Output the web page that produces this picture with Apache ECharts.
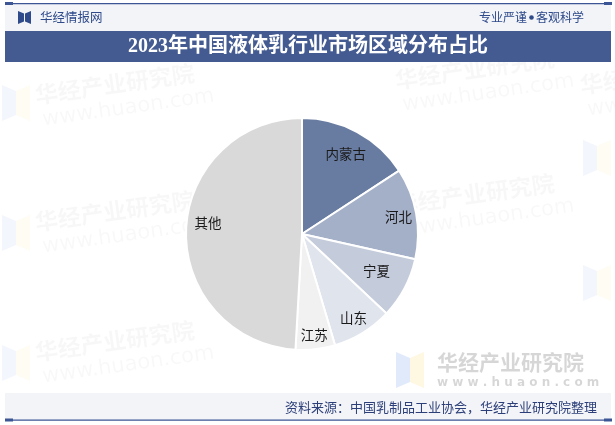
<!DOCTYPE html>
<html>
<head>
<meta charset="utf-8">
<script src="https://cdn.jsdelivr.net/npm/echarts@6/dist/echarts.min.js"></script>
<style>html,body{margin:0;padding:0;background:#fff;}#c{width:615px;height:425px;}</style>
</head>
<body>
<div id="c"></div>
<script>
const categories = ['内蒙古', '河北', '宁夏', '山东', '江苏', '其他'];
const shares = [15.8, 12.7, 8.5, 8.4, 5.5, 49.1];
const sliceColors = ['#687ca1', '#a4b0c8', '#c4cbdb', '#e0e4ed', '#f1f1f1', '#d9d9d9'];

const titleText = '2023年中国液体乳行业市场区域分布占比';
const sourceText = '资料来源：中国乳制品工业协会，华经产业研究院整理';

// label nudges (style only)
const labelNudge = { '内蒙古': [-3, 6], '宁夏': [-12, -9], '其他': [4, -8], '江苏': [1, 4] };

const data = categories.map((n, i) => ({ name: n, value: shares[i], itemStyle: { color: sliceColors[i] } }));
const labelData = categories.map((n, i) => ({ name: n, value: shares[i], label: { offset: labelNudge[n] || [0, 0] } }));

const CJK = "'Noto Sans CJK SC', 'Noto Sans', sans-serif";
const cx = 302, cy = 234;

function wm(x, y) {
  return {
    type: 'group', x: x, y: y, rotation: 0.14, silent: true, z: 0,
    children: [
      { type: 'text', style: { x: 0, y: 0, text: '华经产业研究院', font: 'bold 23px ' + CJK, fill: 'rgba(0,0,0,0.03)', textVerticalAlign: 'middle' } },
      { type: 'text', style: { x: 4, y: 26, text: 'www.huaon.com', font: '21px "DejaVu Sans", sans-serif', fill: 'rgba(0,0,0,0.028)', textVerticalAlign: 'middle' } }
    ]
  };
}
function wmLogo(x, y, a) {
  return {
    type: 'group', x: x, y: y, silent: true, z: 0,
    children: [
      { type: 'polygon', shape: { points: [[0, 0], [14, 6], [14, 30], [0, 36]] }, style: { fill: 'rgba(120,160,230,' + a + ')' } },
      { type: 'polygon', shape: { points: [[14, 6], [28, 0], [28, 36], [14, 30]] }, style: { fill: 'rgba(250,220,120,' + a + ')' } }
    ]
  };
}

const graphics = [
  wmLogo(2, 85, 0.09), wmLogo(2, 215, 0.09), wmLogo(2, 345, 0.09), wmLogo(583, 140, 0.09), wmLogo(583, 265, 0.09),
  wm(35, 95), wm(35, 222), wm(35, 352), wm(395, 80), wm(395, 205), wm(580, 85),
  // header
  { type: 'rect', shape: { x: 5, y: 3, width: 606, height: 28 }, style: { fill: '#f3f4f8' }, z: 1 },
  { type: 'rect', shape: { x: 5, y: 3, width: 606, height: 1.2 }, style: { fill: '#3b5595' }, z: 2 },
  { type: 'rect', shape: { x: 5, y: 2, width: 8, height: 3 }, style: { fill: '#3b5595' }, z: 2 },
  { type: 'rect', shape: { x: 604, y: 2, width: 8, height: 3 }, style: { fill: '#3b5595' }, z: 2 },
  { type: 'polygon', shape: { points: [[18, 11], [24, 13.5], [24, 21.5], [18, 24]] }, style: { fill: '#2e4a8a' }, z: 2 },
  { type: 'polygon', shape: { points: [[25, 13.5], [31, 11], [31, 24], [25, 21.5]] }, style: { fill: '#2e4a8a' }, z: 2 },
  { type: 'text', style: { x: 40, y: 17, text: '华经情报网', font: '12.5px ' + CJK, fill: '#2e4a8a', textVerticalAlign: 'middle' }, z: 2 },
  { type: 'text', style: { x: 527, y: 17, text: '专业严谨', font: '12px ' + CJK, fill: '#2e4a8a', textAlign: 'right', textVerticalAlign: 'middle' }, z: 2 },
  { type: 'circle', shape: { cx: 531.5, cy: 17.5, r: 2.3 }, style: { fill: '#2e4a8a' }, z: 2 },
  { type: 'text', style: { x: 536, y: 17, text: '客观科学', font: '12px ' + CJK, fill: '#2e4a8a', textVerticalAlign: 'middle' }, z: 2 },
  // title bar
  { type: 'rect', shape: { x: 5, y: 31, width: 606, height: 31 }, style: { fill: '#445b91' }, z: 1 },
  { type: 'text', style: { x: 308, y: 47, text: titleText, font: 'bold 20px "Liberation Serif", ' + CJK, fill: '#ffffff', textAlign: 'center', textVerticalAlign: 'middle' }, z: 2 },
  // footer
  { type: 'rect', shape: { x: 5, y: 393, width: 606, height: 27 }, style: { fill: '#f3f4f8' }, z: 1 },
  { type: 'rect', shape: { x: 5, y: 419.5, width: 606, height: 1.2 }, style: { fill: '#3b5595' }, z: 2 },
  { type: 'rect', shape: { x: 5, y: 418.5, width: 8, height: 3 }, style: { fill: '#3b5595' }, z: 2 },
  { type: 'rect', shape: { x: 604, y: 418.5, width: 8, height: 3 }, style: { fill: '#3b5595' }, z: 2 },
  { type: 'text', style: { x: 597, y: 407, text: sourceText, font: '13px ' + CJK, fill: '#2c3f78', textAlign: 'right', textVerticalAlign: 'middle' }, z: 2 },
  // bottom-right watermark logo
  wmLogo(396, 352, 0.22),
  { type: 'text', style: { x: 437, y: 362, text: '华经产业研究院', font: 'bold 21px ' + CJK, fill: 'rgba(0,0,0,0.16)', textVerticalAlign: 'middle' }, silent: true, z: 0 },
  { type: 'text', style: { x: 437, y: 383, text: 'w w w . h u a o n . c o m', font: 'bold 12px "DejaVu Sans", sans-serif', fill: 'rgba(0,0,0,0.16)', textVerticalAlign: 'middle' }, silent: true, z: 0 }
];

const chart = echarts.init(document.getElementById('c'), null, { renderer: 'canvas' });
chart.setOption({
  animation: false,
  backgroundColor: '#ffffff',
  graphic: graphics,
  series: [
    {
      type: 'pie', center: [cx, cy], radius: [0, 116], startAngle: 90, clockwise: true,
      data: data, label: { show: false }, labelLine: { show: false },
      itemStyle: { borderColor: '#ffffff', borderWidth: 2 }, silent: true, z: 3
    },
    {
      type: 'pie', center: [cx, cy], radius: [74, 116], startAngle: 90, clockwise: true,
      data: labelData, silent: true, z: 4,
      itemStyle: { color: 'rgba(0,0,0,0)', borderWidth: 0 },
      label: { show: true, position: 'inside', formatter: '{b}', color: '#1a1a1a', fontSize: 13.5, fontFamily: CJK },
      labelLine: { show: false }
    }
  ]
});
</script>
</body>
</html>
